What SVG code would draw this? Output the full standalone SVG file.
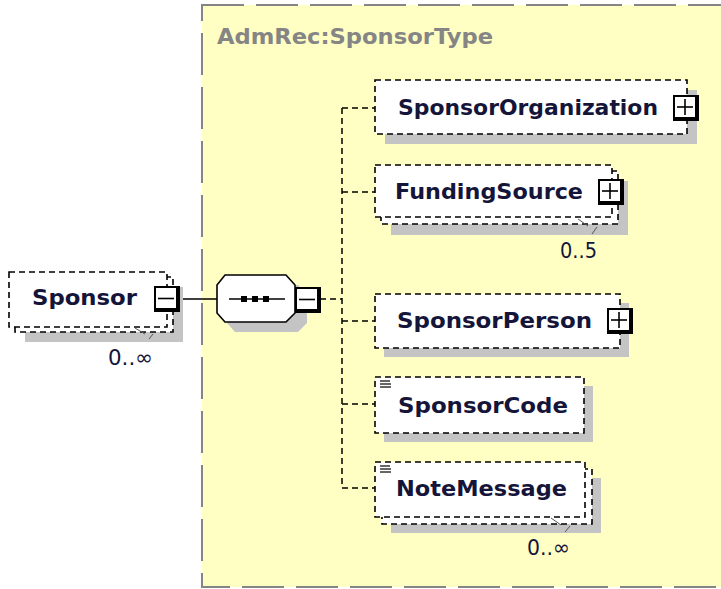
<svg xmlns="http://www.w3.org/2000/svg" width="721" height="589" viewBox="0 0 721 589">
<style>
.bg{fill:#ffffc3;stroke:#858585;stroke-width:2;stroke-dasharray:42,12}
.box{fill:#fff;stroke:#000;stroke-width:1.6;stroke-dasharray:6,4}
.shadow{fill:#c4c4c4}
.lbl{font-family:"DejaVu Sans",Verdana,sans-serif;font-weight:bold;font-size:22px;fill:#15153a}
.title{font-family:"DejaVu Sans",Verdana,sans-serif;font-weight:bold;font-size:22px;fill:#858585}
.occ{font-family:"DejaVu Sans",Verdana,sans-serif;font-size:22px;fill:#15153a}
.conn{stroke:#000;stroke-width:1.5;fill:none;stroke-dasharray:6,4}
.solid{stroke:#000;stroke-width:1.5;fill:none}
.sign{stroke:#000;stroke-width:1.6}
.icon{stroke:#000;stroke-width:1.2}
.notch{stroke:#555;stroke-width:1;fill:none}
</style>
<defs>
<g id="btn"><rect x="0" y="0" width="26" height="26" fill="#000"/><rect x="2" y="2" width="20" height="20" fill="#fff"/></g>
<g id="minus"><use href="#btn"/><line class="sign" x1="4" y1="12.5" x2="20" y2="12.5"/></g>
<g id="plus"><use href="#btn"/><line class="sign" x1="4" y1="12" x2="20" y2="12"/><line class="sign" x1="12" y1="4" x2="12" y2="20"/></g>
<g id="simple"><line class="icon" x1="0" y1="0" x2="10" y2="0"/><line class="icon" x1="0" y1="3" x2="11" y2="3"/><line class="icon" x1="0" y1="6" x2="11" y2="6"/></g>
</defs>
<rect width="721" height="589" fill="#fff"/>
<g id="complexType">
<rect class="bg" x="202" y="5" width="560" height="582"/>
<text class="title" x="217" y="44" textLength="276" lengthAdjust="spacingAndGlyphs">AdmRec:SponsorType</text>
</g>
<g id="connectors">
<line class="solid" x1="180" y1="299" x2="217" y2="299"/>
<line class="conn" x1="320" y1="299" x2="342" y2="299"/>
<line class="conn" x1="342" y1="108" x2="342" y2="488"/>
<line class="conn" x1="342" y1="108" x2="375" y2="108"/>
<line class="conn" x1="342" y1="192" x2="375" y2="192"/>
<line class="conn" x1="342" y1="321" x2="375" y2="321"/>
<line class="conn" x1="342" y1="404" x2="375" y2="404"/>
<line class="conn" x1="342" y1="488" x2="375" y2="488"/>
</g>
<g id="Sponsor">
<rect class="shadow" x="25" y="287" width="158" height="55"/>
<rect class="box" x="15" y="277" width="158" height="55"/>
<rect class="box" x="9" y="272" width="158" height="55"/>
<text class="lbl" x="32" y="305" textLength="105" lengthAdjust="spacingAndGlyphs">Sponsor</text>
<use href="#minus" x="154" y="286"/>
<path class="notch" d="M135 328 L145 334 M153 334 L149 339"/>
<text class="occ" x="108" y="365" textLength="45" lengthAdjust="spacingAndGlyphs">0..∞</text>
</g>
<g id="sequence">
<polygon class="shadow" points="235,285 298,285 307,295 307,323 298,332 235,332 227,323 227,295"/>
<polygon points="225,275 286,275 295,285 295,313 286,322 225,322 217,313 217,285" fill="#fff" stroke="#000" stroke-width="1.6"/>
<line class="solid" x1="229" y1="299" x2="285" y2="299"/>
<rect x="241" y="296" width="6" height="6" fill="#000"/>
<rect x="252" y="296" width="6" height="6" fill="#000"/>
<rect x="263" y="296" width="6" height="6" fill="#000"/>
<use href="#minus" x="295" y="287"/>
</g>
<g id="SponsorOrganization">
<rect class="shadow" x="385" y="90" width="312" height="54"/>
<rect class="box" x="375" y="80" width="312" height="54"/>
<text class="lbl" x="398" y="115" textLength="260" lengthAdjust="spacingAndGlyphs">SponsorOrganization</text>
<use href="#plus" x="673" y="95"/>
</g>
<g id="FundingSource">
<rect class="shadow" x="391" y="181" width="237" height="54"/>
<rect class="box" x="381" y="171" width="237" height="53"/>
<rect class="box" x="375" y="165" width="237" height="52"/>
<text class="lbl" x="395" y="199" textLength="188" lengthAdjust="spacingAndGlyphs">FundingSource</text>
<use href="#plus" x="598" y="179"/>
<path class="notch" d="M578 219 L588 226 M597 227 L592 234"/>
<text class="occ" x="560" y="258" textLength="37" lengthAdjust="spacingAndGlyphs">0..5</text>
</g>
<g id="SponsorPerson">
<rect class="shadow" x="384" y="303" width="245" height="54"/>
<rect class="box" x="375" y="294" width="245" height="54"/>
<text class="lbl" x="397" y="328" textLength="195" lengthAdjust="spacingAndGlyphs">SponsorPerson</text>
<use href="#plus" x="607" y="308"/>
</g>
<g id="SponsorCode">
<rect class="shadow" x="384" y="386" width="209" height="56"/>
<rect class="box" x="375" y="377" width="209" height="56"/>
<use href="#simple" x="380" y="381"/>
<text class="lbl" x="398" y="413" textLength="170" lengthAdjust="spacingAndGlyphs">SponsorCode</text>
</g>
<g id="NoteMessage">
<rect class="shadow" x="391" y="478" width="210" height="55"/>
<rect class="box" x="382" y="469" width="210" height="55"/>
<rect class="box" x="375" y="462" width="210" height="55"/>
<use href="#simple" x="380" y="466"/>
<text class="lbl" x="396" y="496" textLength="171" lengthAdjust="spacingAndGlyphs">NoteMessage</text>
<path class="notch" d="M551 518 L561 525 M570 526 L565 532"/>
<text class="occ" x="527" y="555" textLength="43" lengthAdjust="spacingAndGlyphs">0..∞</text>
</g>
</svg>
